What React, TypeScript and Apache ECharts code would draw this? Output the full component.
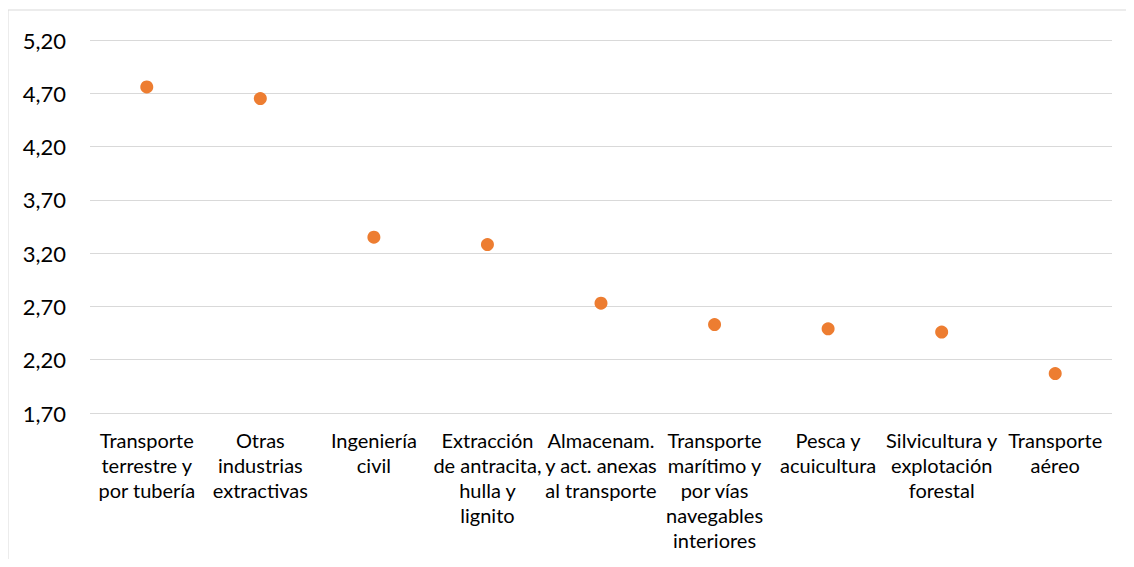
import React, { useEffect, useRef } from "react";
import * as echarts from "echarts";

const categories = [
  "Transporte\nterrestre y\npor tubería",
  "Otras\nindustrias\nextractivas",
  "Ingeniería\ncivil",
  "Extracción\nde antracita,\nhulla y\nlignito",
  "Almacenam.\ny act. anexas\nal transporte",
  "Transporte\nmarítimo y\npor vías\nnavegables\ninteriores",
  "Pesca y\nacuicultura",
  "Silvicultura y\nexplotación\nforestal",
  "Transporte\naéreo",
];
const values = [4.76, 4.65, 3.35, 3.28, 2.73, 2.53, 2.49, 2.46, 2.07];
const yMin = 1.7;
const yMax = 5.2;
const yInterval = 0.5;

const FONT = "Lato, 'Open Sans', sans-serif";

export default function App() {
  const ref = useRef<HTMLDivElement>(null);
  useEffect(() => {
    if (!ref.current) return;
    const chart = echarts.init(ref.current, undefined, { renderer: "svg" });
    chart.setOption({
      animation: false,
      backgroundColor: "#ffffff",
      graphic: [
        {
          type: "rect",
          shape: { x: 0, y: 2, width: 1200, height: 700 },
          style: { fill: "none", stroke: "#d9d9d9", lineWidth: 1 },
          silent: true,
        },
      ],
      grid: { left: 82, right: 14, top: 32, bottom: 146, containLabel: false },
      xAxis: {
        type: "category",
        data: categories,
        axisLine: { show: false },
        axisTick: { show: false },
        splitLine: { show: false },
        axisLabel: {
          interval: 0,
          color: "#000000",
          fontFamily: FONT,
          fontSize: 20,
          lineHeight: 25,
          margin: 14,
          align: "center",
        },
      },
      yAxis: {
        type: "value",
        min: yMin,
        max: yMax,
        interval: yInterval,
        axisLine: { show: false },
        axisTick: { show: false },
        splitLine: { lineStyle: { color: "#d9d9d9", width: 1 } },
        axisLabel: {
          color: "#000000",
          fontFamily: FONT,
          fontSize: 22,
          margin: 24,
          formatter: (v: number) => v.toFixed(2).replace(".", ","),
        },
      },
      series: [
        {
          type: "scatter",
          data: values,
          symbol: "circle",
          symbolSize: 13,
          itemStyle: { color: "#ED7D31", opacity: 1 },
        },
      ],
    });
    return () => chart.dispose();
  }, []);
  return <div ref={ref} style={{ width: 1118, height: 551 }} />;
}
